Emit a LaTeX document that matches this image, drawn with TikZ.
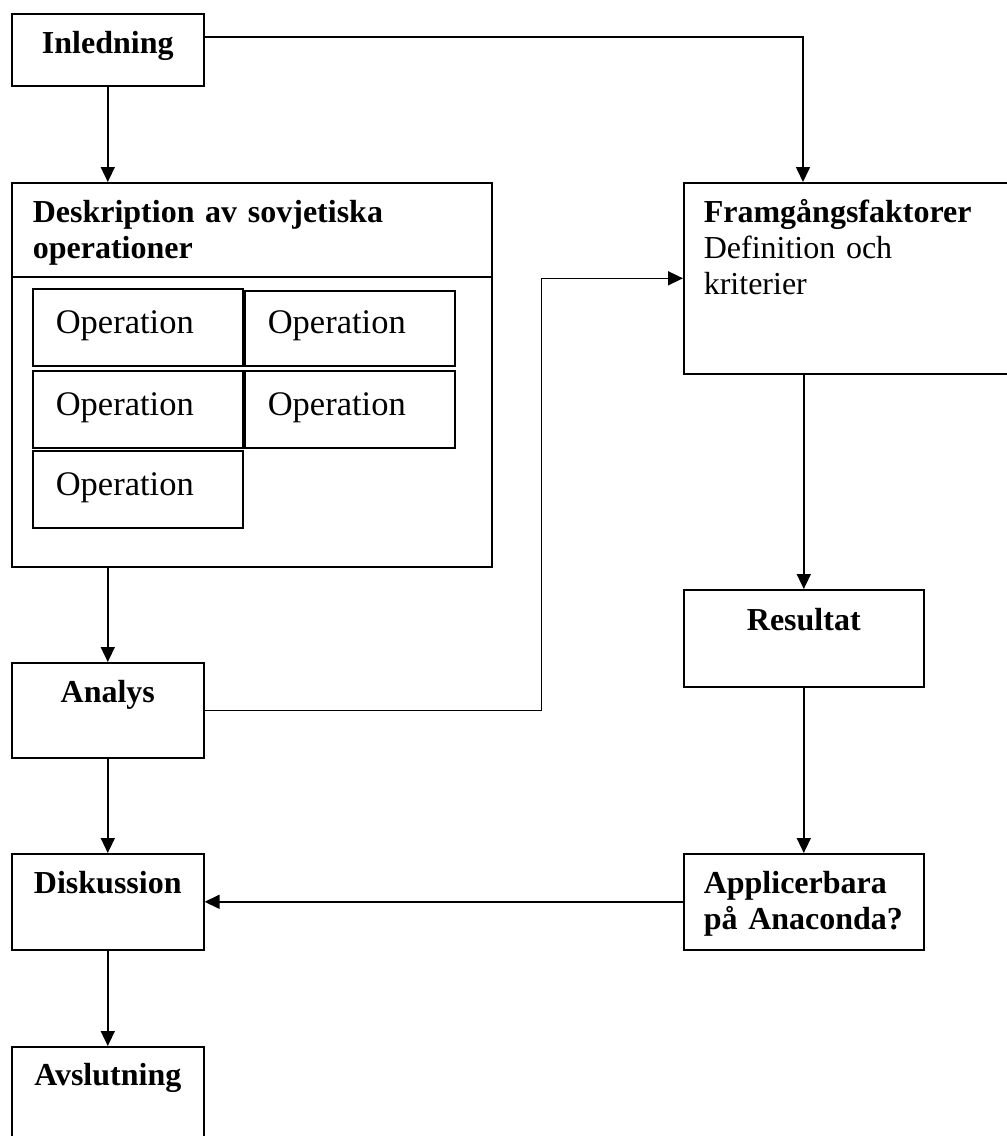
\documentclass[tikz,border=0pt]{standalone}
\usepackage{fontspec}
\setmainfont{Liberation Serif}
\usetikzlibrary{arrows.meta}

\tikzset{
  box/.style={draw, line width=1.6pt, anchor=north west, inner sep=0pt,
    font=\fontsize{32}{36}\selectfont},
  opbox/.style={box, font=\fontsize{34.5}{38}\selectfont, text width=164pt,
    align=left, inner xsep=23pt, text height=45pt, text depth=32pt},
  flow/.style={line width=1.6pt, -{Triangle[length=15pt,width=14pt]}}
}

\begin{document}
\begin{tikzpicture}[x=1pt,y=-1pt]
  \useasboundingbox (0,0) rectangle (1007,1136);
  \clip (0,0) rectangle (1007,1136);

  % Left column
  \node[box, text width=192pt, align=center, text height=40pt, text depth=32pt] (inl) at (11,13) {\textbf{Inledning}};
  \node[box, text width=438pt, inner xsep=21pt, align=left, text height=40pt, text depth=344pt] (desk) at (11,182)
    {\textbf{Deskription av sovjetiska}\\\textbf{operationer}};
  \draw[line width=1.6pt] ([yshift=-95pt]desk.north west) -- ([yshift=-95pt]desk.north east);

  % Operations
  \node[opbox] (op1) at (32,288) {Operation};
  \node[opbox, text height=43pt] (op2) at (244,290) {Operation};
  \node[opbox] (op3) at (32,370) {Operation};
  \node[opbox] (op4) at (244,370) {Operation};
  \node[opbox] (op5) at (32,450) {Operation};

  \node[box, text width=192pt, align=center, text height=40pt, text depth=55pt] (ana) at (11,662) {\textbf{Analys}};
  \node[box, text width=192pt, align=center, text height=40pt, text depth=56pt] (disk) at (11,853) {\textbf{Diskussion}};
  \node[box, text width=192pt, align=center, text height=39pt, text depth=61pt] (avs) at (11,1046) {\textbf{Avslutning}};

  % Right column
  \node[box, text width=300pt, inner xsep=20pt, align=left, text height=40pt, text depth=151pt] (fra) at (683,182)
    {\textbf{Framgångsfaktorer}\\Definition och\\kriterier};
  \coordinate (fratop) at ([xshift=120pt]fra.north west);
  \node[box, text width=240pt, align=center, text height=41pt, text depth=56pt] (res) at (683,589) {\textbf{Resultat}};
  \node[box, text width=200pt, inner xsep=20pt, align=left, text height=40pt, text depth=56pt] (app) at (683,853)
    {\textbf{Applicerbara}\\\textbf{på Anaconda?}};

  % Connectors
  \draw[flow] (inl.south) -- (inl.south |- desk.north);
  \draw[flow] ([yshift=-24pt]inl.north east) -| (fratop);
  \draw[flow] (ana.north |- desk.south) -- (ana.north);
  \draw[flow] (ana.east) -- ++(337,0) |- (fra.west);
  \draw[flow] (res.north |- fra.south) -- (res.north);
  \draw[flow] (res.south) -- (app.north);
  \draw[flow] (app.west) -- (disk.east);
  \draw[flow] (ana.south) -- (disk.north);
  \draw[flow] (disk.south) -- (avs.north);
\end{tikzpicture}
\end{document}
